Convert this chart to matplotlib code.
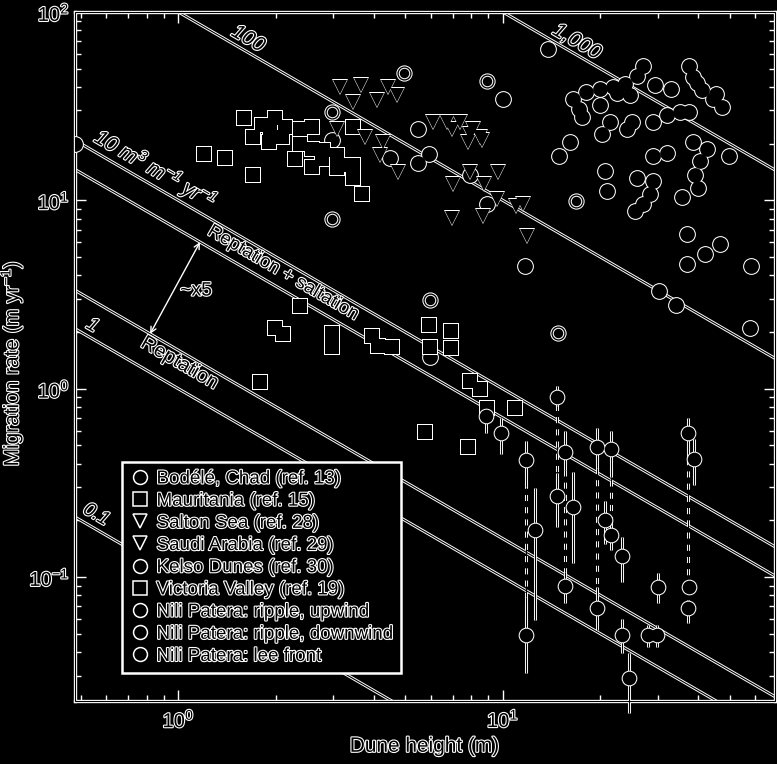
import numpy as np
import matplotlib
matplotlib.use('Agg')
import matplotlib.pyplot as plt
from matplotlib import patheffects as pe
from matplotlib.lines import Line2D
from matplotlib.patches import Rectangle
from matplotlib.ticker import NullFormatter

# ---- data (dune height in m, migration rate in m/yr) ----
bodele_h = [13.8, 27.0, 29.4, 32.9, 37.6, 38.5, 41.0, 44.3, 47.3,
            16.4, 18.1, 19.9, 21.8, 23.8, 24.6,
            17.5, 19.9, 21.4, 20.2, 24.1, 25.1,
            29.0, 32.0, 35.1, 37.6,
            16.1, 14.9, 20.6, 20.9, 25.9, 29.0, 32.0,
            38.5, 42.5, 40.5, 39.0, 39.9, 35.6,
            29.0, 28.4, 27.0, 25.5, 49.7,
            36.9, 36.9, 46.6, 41.9, 58.0, 11.7, 30.2, 34.1, 57.7,
            5.96, 5.47, 5.92, 5.47, 4.49, 7.92, 8.93, 10.0, 2.97, 0.48,
            26.0, 39.8, 45.5, 17.2, 22.5]
bodele_v = [63.7, 51.8, 41.1, 39.2, 51.8, 45.3, 38.7, 34.7, 31.4,
            34.7, 37.7, 39.2, 40.1, 41.6, 36.4,
            27.8, 32.2, 26.2, 22.6, 24.0, 26.2,
            26.2, 28.5, 29.6, 29.6,
            20.5, 17.1, 14.4, 11.2, 13.2, 17.1, 17.9,
            20.5, 18.8, 16.1, 13.7, 11.6, 10.4,
            12.6, 10.8, 9.52, 8.74, 17.3,
            6.61, 4.59, 5.85, 5.18, 4.5, 4.48, 3.30, 2.78, 2.10,
            1.48, 23.8, 17.7, 15.7, 16.7, 13.7, 9.52, 34.7, 21.0, 19.8,
            46.0, 42.0, 36.5, 30.5, 37.0]

mauritania_h = [1.59, 1.20, 1.39, 1.70, 1.70, 1.81, 1.98, 2.08, 1.90, 2.37, 2.58, 2.37, 2.29,
                2.58, 2.58, 2.79, 2.77, 3.08, 3.08, 3.31, 3.45, 3.45, 3.45, 3.68, 2.13, 1.92]
mauritania_v = [27.5, 17.7, 16.7, 13.7, 21.8, 25.2, 27.5, 21.8, 20.5, 24.0, 24.6, 19.8, 16.5,
                18.8, 15.1, 18.6, 16.5, 17.5, 14.8, 15.5, 24.6, 15.5, 13.1, 10.8, 24.6, 23.6]

salton_h = [3.15, 3.65, 4.42, 3.45, 4.09, 4.72, 3.08, 3.76, 4.27, 4.17, 4.75,
            7.01, 7.92, 8.74, 9.65, 9.58, 11.0, 11.5, 6.97, 8.67, 11.9]
salton_v = [40.1, 41.1, 40.1, 33.4, 34.2, 36.4, 23.8, 21.8, 20.5, 17.5, 14.2,
            12.2, 14.2, 12.2, 14.2, 10.2, 9.30, 9.52, 8.03, 8.23, 6.45]

saudi_h = [6.09, 6.72, 6.97, 7.91, 8.08, 7.80, 8.49, 7.37, 8.6]
saudi_v = [26.2, 26.2, 24.0, 22.4, 24.0, 20.5, 21.8, 26.2, 21.0]

kelso_h = [2.97, 2.97, 4.95, 8.93, 16.8, 5.96, 14.8]
kelso_v = [29.6, 7.93, 47.5, 43.1, 9.88, 2.96, 1.98]

victoria_h = [2.37, 1.99, 2.10, 2.97, 2.97, 3.95, 4.12, 4.55, 1.78, 5.92, 6.91, 6.91,
              5.96, 7.92, 8.49, 8.93, 10.9, 5.75, 7.80]
victoria_v = [2.75, 2.10, 1.95, 1.98, 1.67, 1.91, 1.69, 1.67, 1.08, 2.18, 2.03, 1.65,
              1.67, 1.10, 1.00, 0.79, 0.79, 0.592, 0.493]

nili_up_h = [8.87, 9.86, 11.8, 14.7, 15.6, 19.5, 21.5, 37.1, 38.7]
nili_up_v = [0.72, 0.585, 0.421, 0.907, 0.459, 0.488, 0.481, 0.585, 0.426]
nili_up_lo = [0.58, 0.45, 0.30, 0.81, 0.37, 0.38, 0.34, 0.40, 0.31]
nili_up_hi = [0.72, 0.70, 0.53, 1.04, 0.60, 0.62, 0.60, 0.70, 0.54]

nili_down_h = [11.8, 12.6, 14.7, 15.6, 16.5, 19.5, 20.6, 21.5, 37.1]
nili_down_v = [0.0493, 0.177, 0.268, 0.0896, 0.235, 0.0686, 0.20, 0.167, 0.0686]
nili_down_lo = [0.031, 0.059, 0.184, 0.0729, 0.119, 0.0525, 0.15, 0.14, 0.0571]
nili_down_hi = [0.0784, 0.299, 0.355, 0.106, 0.36, 0.0886, 0.255, 0.20, 0.0755]

nili_lee_h = [23.3, 23.3, 24.4, 28.0, 29.8, 30.0, 37.4]
nili_lee_v = [0.129, 0.0493, 0.0292, 0.0493, 0.0493, 0.0886, 0.0886]
nili_lee_lo = [0.094, 0.0397, 0.019, 0.0426, 0.0426, 0.0729, 0.0886]
nili_lee_hi = [0.163, 0.060, 0.0397, 0.0557, 0.0557, 0.105, 0.0886]

# same dune: ripple rate linked to the lower value
link_h = [11.8, 14.7, 15.6, 19.5, 21.5, 37.1]
link_top = [0.421, 0.907, 0.459, 0.488, 0.481, 0.585]
link_bottom = [0.0493, 0.268, 0.0896, 0.0686, 0.167, 0.0886]

flux_levels = [0.1, 1, 10, 100, 1000]   # m3 m-1 yr-1
reptation_flux = 1.6
rep_salt_flux = 7.0

legend_labels = ['Bodélé, Chad (ref. 13)', 'Mauritania (ref. 15)', 'Salton Sea (ref. 28)',
                 'Saudi Arabia (ref. 29)', 'Kelso Dunes (ref. 30)', 'Victoria Valley (ref. 19)',
                 'Nili Patera: ripple, upwind', 'Nili Patera: ripple, downwind',
                 'Nili Patera: lee front']
legend_markers = ['o', 's', 'v', 'v', 'o', 's', 'o', 'o', 'o']

# ---- style ----
plt.rcParams['font.family'] = ['Liberation Sans', 'DejaVu Sans']
plt.rcParams['mathtext.fontset'] = 'custom'
plt.rcParams['mathtext.rm'] = 'Liberation Sans'
plt.rcParams['mathtext.it'] = 'Liberation Sans:italic'
plt.rcParams['mathtext.default'] = 'regular'

outline = [pe.withStroke(linewidth=1.6, foreground='white')]

fig = plt.figure(figsize=(7.77, 7.64), dpi=100, facecolor='black')
ax = fig.add_axes([0.0965, 0.0825, 0.9009, 0.9018])
ax.set_facecolor('black')
ax.set_xscale('log')
ax.set_yscale('log')
ax.set_xlim(0.48, 69)
ax.set_ylim(0.022, 100)


def double_line(x, y, z=2, **kw):
    ax.plot(x, y, color='white', lw=2.2, zorder=z, solid_capstyle='butt', **kw)
    ax.plot(x, y, color='black', lw=0.8, zorder=z + 0.05, **kw)


def hollow(x, y, marker, ms, z, rings=1):
    for k in range(rings):
        s = ms - 3.4 * k
        ax.plot(x, y, ls='none', marker=marker, ms=s + 1.5, mfc='white', mew=0, zorder=z + 0.2 * k)
        ax.plot(x, y, ls='none', marker=marker, ms=s, mfc='black', mew=0, zorder=z + 0.2 * k + 0.1)


def bars(h, lo, hi, z=3):
    ax.vlines(h, lo, hi, colors='white', lw=2.2, zorder=z, clip_on=False)
    ax.vlines(h, lo, hi, colors='black', lw=0.8, zorder=z + 0.05, clip_on=False)


# constant flux lines
xs = np.array(ax.get_xlim())
for q in flux_levels + [reptation_flux, rep_salt_flux]:
    double_line(xs, q / xs)

# dotted links between points of the same dune
ax.vlines(link_h, link_bottom, link_top, colors='white', lw=2.2, linestyles=(0, (2, 2)), zorder=2.5)
ax.vlines(link_h, link_bottom, link_top, colors='black', lw=0.8, zorder=2.6)

bars(nili_up_h, nili_up_lo, nili_up_hi)
bars(nili_down_h, nili_down_lo, nili_down_hi)
bars(nili_lee_h, nili_lee_lo, nili_lee_hi)

hollow(bodele_h, bodele_v, 'o', 10.6, 4)
hollow(mauritania_h, mauritania_v, 's', 9.8, 5)
hollow(salton_h, salton_v, 'v', 10.2, 6)
hollow(saudi_h, saudi_v, 'v', 10.2, 6.5)
hollow(kelso_h, kelso_v, 'o', 10.2, 7, rings=2)
hollow(victoria_h, victoria_v, 's', 10.2, 5.5)
hollow(nili_up_h, nili_up_v, 'o', 9.8, 8)
hollow(nili_down_h, nili_down_v, 'o', 9.8, 8)
hollow(nili_lee_h, nili_lee_v, 'o', 9.8, 8)

# line labels, rotated along the flux lines
p0 = ax.transData.transform((1, 1))
p1 = ax.transData.transform((10, 0.1))
ang = np.degrees(np.arctan2(p1[1] - p0[1], p1[0] - p0[0]))

labels = [
    ('100', 1.64, 72, 15, 'italic'),
    ('1,000', 16.9, 69.4, 15, 'italic'),
    ('10 m$^3$ m$^{-1}$ yr$^{-1}$', 0.85, 14.6, 15, 'italic'),
    ('Reptation + saltation', 2.10, 4.11, 13.5, 'normal'),
    ('Reptation', 1.01, 1.37, 14.5, 'normal'),
    ('1', 0.542, 2.15, 14, 'italic'),
    ('0.1', 0.557, 0.213, 14, 'italic'),
]
for s, x, y, fs, st in labels:
    ax.text(x, y, s, rotation=ang, rotation_mode='anchor', ha='center', va='center',
            fontsize=fs, style=st, color='black', path_effects=outline, zorder=9)

ax.annotate('', xy=(0.818, reptation_flux / 0.818), xytext=(1.166, rep_salt_flux / 1.166),
            arrowprops=dict(arrowstyle='<->', color='white', lw=1.0, mutation_scale=10,
                            shrinkA=0, shrinkB=0), zorder=9)
ax.text(1.134, 3.30, '~x5', fontsize=14, ha='center', va='center', color='black',
        path_effects=outline, zorder=9)

# axes frame and ticks
for sp in ax.spines.values():
    sp.set_color('white')
    sp.set_linewidth(2.4)
ax.add_patch(Rectangle((0, 0), 1, 1, transform=ax.transAxes, fill=False, ec='black',
                       lw=0.8, clip_on=False, zorder=3))
ax.tick_params(which='both', direction='in', top=True, right=True, colors='white')
ax.tick_params(which='major', length=8, width=1, labelsize=14.5)
ax.tick_params(which='minor', length=4, width=1)
ax.tick_params(axis='x', pad=6)
ax.tick_params(axis='y', pad=4)
ax.xaxis.set_minor_formatter(NullFormatter())
ax.yaxis.set_minor_formatter(NullFormatter())

ax.set_xlabel('Dune height (m)', fontsize=15, color='black', path_effects=outline, labelpad=4)
ax.set_ylabel('Migration rate (m yr$^{-1}$)', fontsize=15, color='black',
              path_effects=outline)
ax.yaxis.set_label_coords(-0.072, 0.49)

handles = [Line2D([], [], ls='none', marker=m, ms=10, mfc='black', mec='white', mew=1.1)
           for m in legend_markers]
leg = ax.legend(handles, legend_labels, loc='upper left', bbox_to_anchor=(0.067, 0.347),
                borderaxespad=0, fontsize=13.5, facecolor='black', edgecolor='white',
                framealpha=1, fancybox=False, handlelength=1.0, handletextpad=0.4,
                labelspacing=0.27, borderpad=0.45)
leg.get_frame().set_linewidth(1.8)
leg.set_zorder(20)
for t in leg.get_texts():
    t.set_color('black')
    t.set_path_effects(outline)

fig.canvas.draw()
for lbl in ax.get_xticklabels() + ax.get_yticklabels():
    lbl.set_color('black')
    lbl.set_path_effects(outline)

fig.savefig('out.png', dpi=100, facecolor='black')
